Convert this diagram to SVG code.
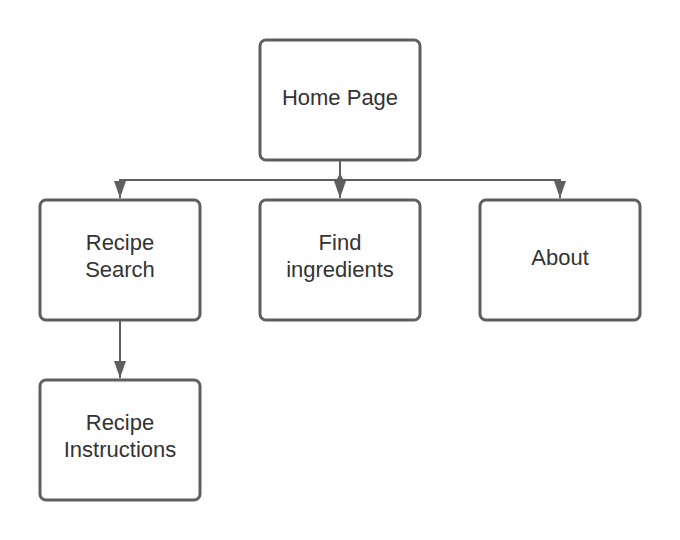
<svg xmlns="http://www.w3.org/2000/svg" width="680" height="540" viewBox="0 0 680 540">
<style>
.box{fill:#fff;stroke:#5e5e5e;stroke-width:3}
.t{font-family:"Liberation Sans",Arial,sans-serif;font-size:22px;fill:#333;text-anchor:middle}
.c{fill:none;stroke:#5e5e5e;stroke-width:2}
.ah{fill:#5e5e5e}
</style>
<rect width="680" height="540" fill="#fff"/>
<g id="connectors">
<path class="c" d="M340,160 V198"/>
<path class="c" d="M340,180 H120 V198"/>
<path class="c" d="M340,180 H560 V198"/>
<path class="c" d="M120,320 V378"/>
<path class="ah" d="M114,181 H126 L120,198 Z"/>
<path class="ah" d="M334,181 H346 L340,198 Z"/>
<path class="ah" d="M554,181 H566 L560,198 Z"/>
<path class="ah" d="M114,361 H126 L120,378 Z"/>
<path class="ah" d="M340,173 L343.5,180 L340,187 L336.5,180 Z"/>
</g>
<g id="home"><rect class="box" x="260" y="40" width="160" height="120" rx="6"/><text class="t" x="340" y="105">Home Page</text></g>
<g id="search"><rect class="box" x="40" y="200" width="160" height="120" rx="6"/><text class="t" x="120" y="250">Recipe</text><text class="t" x="120" y="277">Search</text></g>
<g id="ingredients"><rect class="box" x="260" y="200" width="160" height="120" rx="6"/><text class="t" x="340" y="250">Find</text><text class="t" x="340" y="277">ingredients</text></g>
<g id="about"><rect class="box" x="480" y="200" width="160" height="120" rx="6"/><text class="t" x="560" y="265">About</text></g>
<g id="instructions"><rect class="box" x="40" y="380" width="160" height="120" rx="6"/><text class="t" x="120" y="430">Recipe</text><text class="t" x="120" y="457">Instructions</text></g>
</svg>
